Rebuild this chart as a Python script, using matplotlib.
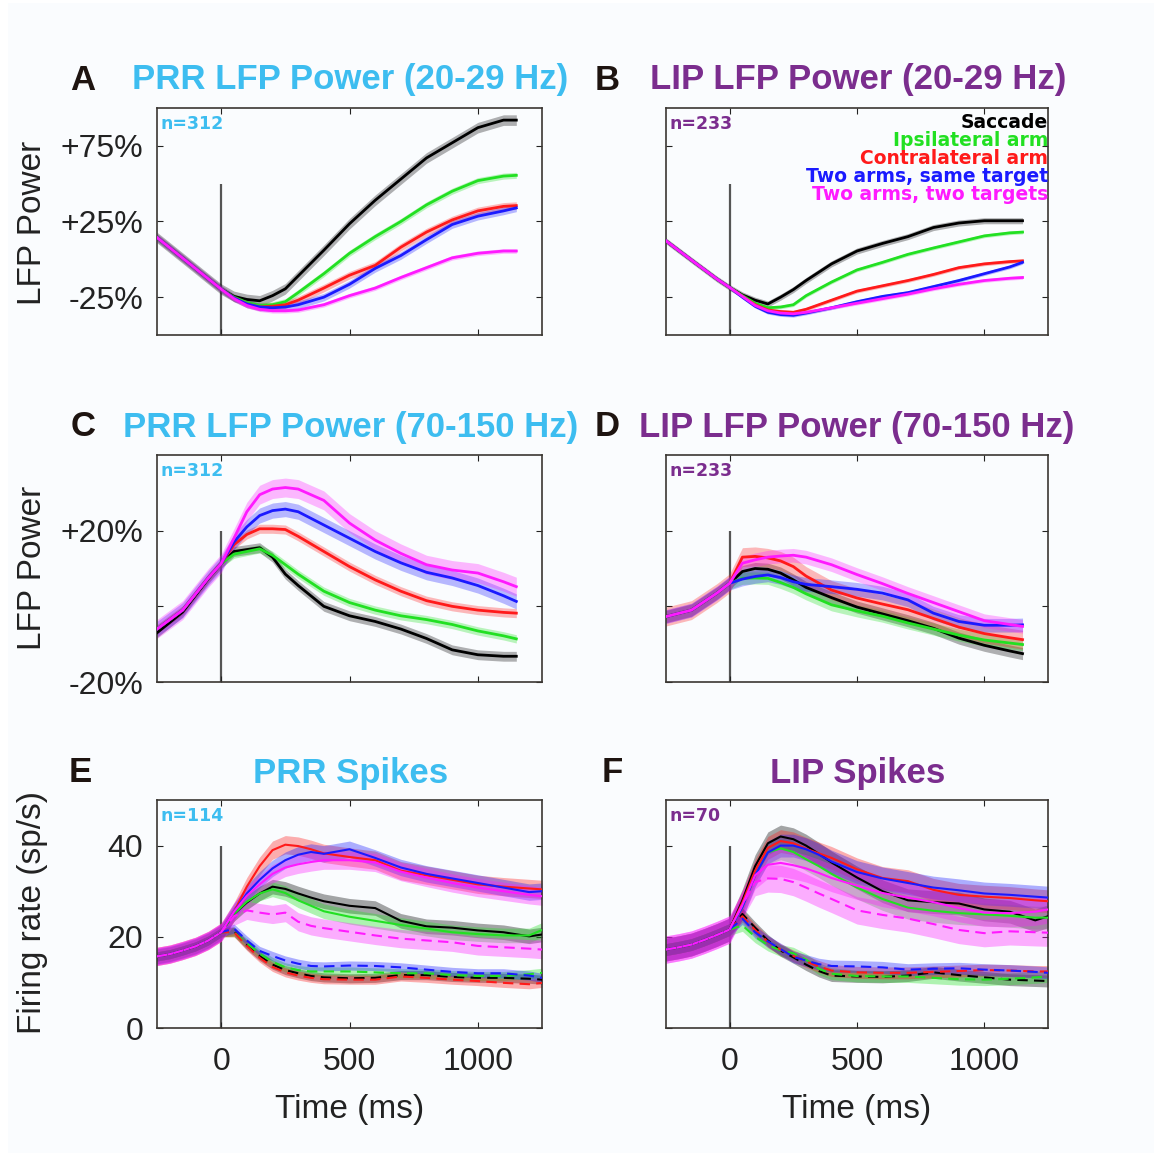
import matplotlib
matplotlib.use('Agg')
import matplotlib.pyplot as plt
from matplotlib.patches import Rectangle

plt.rcParams['font.family'] = ['Liberation Sans', 'DejaVu Sans']

PRR_COLOR = '#3dbdf0'
LIP_COLOR = '#7b2d8e'
COLORS = ['#000000', '#22e022', '#ff1a1a', '#1a1aff', '#ff1aff']
CONDITIONS = ['Saccade', 'Ipsilateral arm', 'Contralateral arm',
              'Two arms, same target', 'Two arms, two targets']

# LFP time grid (ms)
t_lfp = [-250, -150, -50, 0, 50, 100, 150, 200, 250, 300, 400, 500, 600, 700,
         800, 900, 1000, 1100, 1150]

# A: PRR beta (20-29 Hz), % change
a_pre = [14.4, 0.8, -12.9, -19.7]
a_sac = a_pre + [-24.5, -26.5, -27.4, -24, -19.5, -11, 6, 23.5, 39, 53, 67, 77, 87, 92, 92]
a_ips = a_pre + [-25, -28.5, -30.5, -30, -28, -22, -9.5, 4, 15, 25, 36, 45, 52, 55, 55.5]
a_con = a_pre + [-25.5, -29.5, -31.5, -31, -30, -27, -19, -10.5, -4, 8, 18, 26, 32, 35, 35.5]
a_same = a_pre + [-25.5, -29.5, -31.5, -32, -31.5, -30, -25, -16.5, -6, 2.5, 13, 23, 28.5, 32, 34]
a_two = a_pre + [-26, -30.5, -33, -34, -34, -33.5, -30, -24, -19, -12, -5.5, 1, 4, 5.5, 5.5]
a_sem = [3.5, 2, 2.5, 2.5, 1.5]

# B: LIP beta (20-29 Hz)
b_pre = [12.2, -0.5, -13, -18.6]
b_sac = b_pre + [-23.5, -27, -29.5, -25, -20, -14, -3, 5.5, 10.5, 15, 21, 24, 25.5, 25.5, 25.5]
b_ips = b_pre + [-24, -29, -32, -31.5, -30, -24, -15, -7, -2, 3.3, 7.5, 11.5, 15.5, 17.5, 18]
b_con = b_pre + [-24.5, -30, -33.5, -34.5, -35, -33, -27, -21, -17.5, -14, -10, -5.5, -3, -1.5, -1]
b_same = b_pre + [-25, -31, -35, -36.5, -37, -35.5, -32, -28, -24.5, -22, -18, -14, -9.5, -5, -2]
b_two = b_pre + [-24.5, -30.5, -34, -35.5, -36, -35, -32, -29, -26, -23, -19.5, -16.5, -14, -12.5, -12]
b_sem = [2, 1.2, 1.2, 1.2, 1.2]

# C: PRR high gamma (70-150 Hz)
c_pre = [-6, -1, 7.5, 11.3]
c_sac = [-7, -1.5, 7.3, 11.3] + [14.5, 15, 15.5, 13, 8.5, 5.5, 0, -2.5, -4, -6, -8.5, -11.5, -12.8, -13.2, -13.2]
c_ips = c_pre + [13.8, 14.5, 15.2, 13.5, 11, 8.5, 4, 1, -1, -2.5, -3.5, -4.8, -6.5, -7.8, -8.6]
c_con = c_pre + [16.3, 19, 20.5, 20.5, 20.3, 18.5, 14.5, 10.5, 7, 4, 1.5, 0, -1, -1.6, -1.8]
c_same = c_pre + [17, 21, 24, 25.3, 25.7, 25, 21.5, 18, 14.5, 11.5, 9, 7.5, 5.5, 2.8, 1.3]
c_two = c_pre + [18, 25, 29.5, 31, 31.4, 31, 28, 22, 17.5, 14, 11, 9.6, 8.8, 6.5, 5.2]
c_sem = [1.3, 1.1, 1.2, 2, 2.5]

# D: LIP high gamma (70-150 Hz)
d_pre = [-2.7, -1, 3.5, 6.1]
d_sac = d_pre + [9.2, 10, 9.8, 8.8, 7, 5, 2.3, -0.2, -2, -3.8, -5.8, -8.4, -10.3, -11.8, -12.5]
d_ips = d_pre + [7.4, 7.5, 7.4, 6.3, 5, 3.3, 0.4, -1.2, -2.6, -4.4, -6, -7.6, -8.9, -9.7, -10.1]
d_con = d_pre + [13, 13.2, 12.8, 12, 10.5, 8, 4.3, 2.2, 0.6, -0.9, -3.2, -5.5, -7.2, -8.3, -8.8]
d_same = d_pre + [7.2, 7.9, 8.3, 7.6, 6.5, 5.8, 5.2, 4.5, 3.5, 1.7, -1.8, -4, -5, -5, -4.9]
d_two = d_pre + [11.4, 12.3, 13, 13.3, 13.5, 13, 11, 8.4, 6, 3.4, 1, -1.4, -3.8, -4.8, -5.3]
d_sem = [1.6, 1.6, 2.5, 1.8, 1.8]

# spike time grid (ms)
t_spk = [-250, -200, -150, -100, -50, 0, 50, 100, 150, 200, 250, 300, 350, 400,
         500, 600, 700, 800, 900, 1000, 1100, 1200, 1250]

# E: PRR spikes (sp/s); solid = target in RF, dashed = out
e_pre = [15.7, 16.2, 17, 17.9, 19.2, 21]
e_sac = e_pre + [25, 27.5, 29.5, 31, 30.5, 29.5, 28.6, 27.8, 26.8, 26.3, 23.5, 22.3, 22, 21.4, 21, 20.1, 20.5]
e_ips = e_pre + [25, 27.7, 29.5, 30.4, 29.6, 28, 26.8, 25.6, 24.4, 23.5, 22.6, 21.8, 21, 20.6, 20.3, 20.3, 21.5]
e_con = e_pre + [25.5, 31, 35.5, 39, 40.2, 39.9, 39.2, 38.3, 37.5, 36.8, 34.5, 33.5, 32.5, 31.5, 31, 30.6, 30.4]
e_same = e_pre + [25.5, 29.5, 32.5, 35, 36.8, 38, 38.6, 38.2, 39.2, 37.3, 35.2, 33.8, 32.8, 31.8, 30.8, 29.8, 30]
e_two = e_pre + [25.5, 29, 31.5, 33.8, 35.2, 35.9, 36.4, 36.8, 36.8, 36.3, 34.3, 33, 31.8, 30.8, 30, 29.2, 28.9]
e_sac_out = e_pre + [21.2, 18.2, 15.8, 13.9, 12.7, 12, 11.4, 11.1, 10.9, 11, 11.6, 11.6, 11.2, 11, 11, 10.8, 10.6]
e_ips_out = e_pre + [21, 18.6, 16.3, 14.5, 13.3, 12.7, 12.4, 12.4, 12.4, 12.2, 12, 12, 11.6, 11.4, 11.4, 11.8, 12.1]
e_con_out = e_pre + [21, 18, 15.4, 13.4, 12.2, 11.5, 11, 10.7, 10.6, 10.6, 11.3, 11, 10.6, 10.3, 9.9, 9.6, 9.9]
e_same_out = e_pre + [21.8, 19.2, 16.9, 15.8, 14.8, 14.1, 13.6, 13.5, 13.7, 13.6, 13.3, 12.8, 12.3, 12, 12, 11.5, 11]
e_two_alt = e_pre + [24.5, 25.8, 25.3, 24.9, 25.3, 23.3, 22.4, 21.9, 21.1, 20.3, 19.6, 19.2, 18.8, 18, 17.7, 17.4, 17.2]
e_sem = [1.6, 1.6, 2, 1.8, 2]
e_sem_out = [1, 1, 1, 1, 2]

# F: LIP spikes (sp/s)
f_pre = [17.2, 17.7, 18.3, 19.3, 20.4, 21.6]
f_sac = f_pre + [28, 35.5, 40.5, 42, 41.4, 40, 38.2, 36.3, 33, 30, 28, 27.6, 27.3, 26, 25.5, 23.6, 24.5]
f_ips = f_pre + [26.5, 33.5, 38.5, 39.4, 38.6, 37, 35.5, 33.8, 30.8, 28.3, 26.4, 25.7, 25.2, 24.9, 24.6, 24.2, 24.2]
f_con = f_pre + [27.5, 34.5, 39.5, 41, 40.5, 39.3, 38.3, 37.3, 34.8, 32.9, 32.2, 30.3, 29.2, 28.8, 28.5, 28, 27.8]
f_same = f_pre + [26.5, 33.5, 38.5, 40, 40, 39.2, 38, 36.5, 34.2, 32.8, 31.8, 30.8, 30.2, 29.5, 29.2, 28.8, 28.6]
f_two = f_pre + [27, 33.5, 35.8, 36.2, 35.7, 35, 34, 32.9, 31.2, 29.6, 28.6, 27.6, 26.3, 25.3, 25.2, 25.5, 26]
f_sac_out = f_pre + [25, 22, 19.2, 17, 15.5, 13.9, 12.5, 11.5, 11.3, 11.2, 11.5, 12.2, 11.6, 11.1, 10.6, 10.4, 10.3]
f_ips_out = f_pre + [22.5, 20, 18.2, 17, 16.4, 15, 13, 11.9, 11.4, 11.3, 11.3, 11, 10.7, 10.6, 10.8, 11.1, 11.3]
f_con_out = f_pre + [24.5, 21.5, 18.9, 17.2, 15.8, 14.6, 13.5, 12.6, 12.2, 12.1, 12.1, 12.3, 12.5, 12.7, 12.6, 12.4, 12.4]
f_same_out = f_pre + [24, 21, 19, 17.3, 15.6, 14.8, 14, 13.6, 13.5, 13.3, 12.8, 13, 13.1, 12.8, 12.6, 12.3, 12.1]
f_two_alt = f_pre + [27, 32, 32.8, 32.7, 32, 30.8, 29.5, 28.3, 25.8, 24.8, 24, 22.8, 21.5, 20.8, 21.2, 21, 20.9]
f_sem = [2.5, 2.5, 2.5, 2.5, 3]
f_sem_out = [1.3, 1.3, 1.3, 1.3, 3]

W, H = 1154, 1153


def px_axes(fig, left, top, right, bottom):
    return fig.add_axes([left / W, 1 - bottom / H, (right - left) / W, (bottom - top) / H])


def fig_text(fig, x, y, s, **kw):
    fig.text(x / W, 1 - y / H, s, ha='center', va='center', **kw)


def style_axes(ax, ylim, yticks, ylabels, vline_top, xlabels):
    ax.set_facecolor('#fafcfe')
    ax.set_xlim(-250, 1250)
    ax.set_ylim(*ylim)
    ax.set_xticks([0, 500, 1000])
    ax.set_yticks(yticks)
    ax.set_yticklabels(ylabels)
    if xlabels:
        ax.set_xticklabels(['0', '500', '1000'])
    else:
        ax.set_xticklabels([])
    ax.tick_params(direction='in', top=True, right=True, length=4, width=0.8,
                   labelsize=23, colors='#222222', pad=10)
    ax.tick_params(axis='x', pad=14)
    for sp in ax.spines.values():
        sp.set_linewidth(1.2)
        sp.set_color('#3a3632')
    ax.vlines(0, ylim[0], vline_top, color='#555555', lw=1.6, zorder=1)


def draw_curves(ax, t, curves, sems, styles, lw, alpha):
    for y, s, (c, ls) in zip(curves, sems, styles):
        lo = [v - s for v in y]
        hi = [v + s for v in y]
        ax.fill_between(t, lo, hi, color=c, alpha=alpha, lw=0, zorder=2)
    for y, (c, ls) in zip(curves, styles):
        if ls == '--':
            ax.plot(t, y, color=c, lw=lw, ls=(0, (5, 3)), zorder=3)
        else:
            ax.plot(t, y, color=c, lw=lw, zorder=3)


def n_label(ax, s, color):
    ax.text(0.008, 0.93, s, transform=ax.transAxes, color=color,
            fontsize=12.5, fontweight='bold', family='DejaVu Sans', va='center')


fig = plt.figure(figsize=(W / 100, H / 100), dpi=100)
fig.patch.set_facecolor('white')
fig.patches.append(Rectangle((8 / W, 0), 1 - 8 / W, 1 - 3 / H, transform=fig.transFigure,
                             facecolor='#fafcfe', edgecolor='none', zorder=-10))

solid = [(c, '-') for c in COLORS]

# A
axA = px_axes(fig, 157, 108, 542, 335)
style_axes(axA, (-50, 100), [-25, 25, 75], ['-25%', '+25%', '+75%'], 50, False)
draw_curves(axA, t_lfp, [a_sac, a_ips, a_con, a_same, a_two], a_sem, solid, 2.0, 0.3)
n_label(axA, 'n=312', PRR_COLOR)

# B
axB = px_axes(fig, 666, 108, 1048, 335)
style_axes(axB, (-50, 100), [-25, 25, 75], ['', '', ''], 50, False)
draw_curves(axB, t_lfp, [b_sac, b_ips, b_con, b_same, b_two], b_sem, solid, 2.0, 0.3)
n_label(axB, 'n=233', LIP_COLOR)
for i, (name, c) in enumerate(zip(CONDITIONS, COLORS)):
    axB.text(1.0, 0.934 - i * 0.0793, name, transform=axB.transAxes, color=c,
             fontsize=13.5, fontweight='bold', family='DejaVu Sans',
             ha='right', va='center', clip_on=True)

# C
axC = px_axes(fig, 157, 455, 542, 682)
style_axes(axC, (-20, 40), [-20, 0, 20], ['-20%', '', '+20%'], 20, False)
draw_curves(axC, t_lfp, [c_sac, c_ips, c_con, c_same, c_two], c_sem, solid, 2.0, 0.3)
n_label(axC, 'n=312', PRR_COLOR)

# D
axD = px_axes(fig, 666, 455, 1048, 682)
style_axes(axD, (-20, 40), [-20, 0, 20], ['', '', ''], 20, False)
draw_curves(axD, t_lfp, [d_sac, d_ips, d_con, d_same, d_two], d_sem, solid, 2.0, 0.3)
n_label(axD, 'n=233', LIP_COLOR)

spk_styles = solid + [(c, '--') for c in COLORS]

# E
axE = px_axes(fig, 157, 800, 542, 1028)
style_axes(axE, (0, 50), [0, 20, 40], ['0', '20', '40'], 40, True)
draw_curves(axE, t_spk,
            [e_sac, e_ips, e_con, e_same, e_two,
             e_sac_out, e_ips_out, e_con_out, e_same_out, e_two_alt],
            e_sem + e_sem_out, spk_styles, 1.5, 0.35)
n_label(axE, 'n=114', PRR_COLOR)
axE.set_xlabel('Time (ms)', fontsize=24, color='#222222', labelpad=12)

# F
axF = px_axes(fig, 666, 800, 1048, 1028)
style_axes(axF, (0, 50), [0, 20, 40], ['', '', ''], 40, True)
draw_curves(axF, t_spk,
            [f_sac, f_ips, f_con, f_same, f_two,
             f_sac_out, f_ips_out, f_con_out, f_same_out, f_two_alt],
            f_sem + f_sem_out, spk_styles, 1.5, 0.35)
n_label(axF, 'n=70', LIP_COLOR)
axF.set_xlabel('Time (ms)', fontsize=24, color='#222222', labelpad=12)

# titles and panel letters
title_kw = dict(fontsize=25, fontweight='bold')
fig_text(fig, 350, 80, 'PRR LFP Power (20-29 Hz)', color=PRR_COLOR, **title_kw)
fig_text(fig, 858, 80, 'LIP LFP Power (20-29 Hz)', color=LIP_COLOR, **title_kw)
fig_text(fig, 351, 427, 'PRR LFP Power (70-150 Hz)', color=PRR_COLOR, **title_kw)
fig_text(fig, 857, 427, 'LIP LFP Power (70-150 Hz)', color=LIP_COLOR, **title_kw)
fig_text(fig, 351, 773, 'PRR Spikes', color=PRR_COLOR, **title_kw)
fig_text(fig, 858, 773, 'LIP Spikes', color=LIP_COLOR, **title_kw)
for letter, x, y in [('A', 83, 80), ('B', 607, 80), ('C', 83, 427),
                     ('D', 607, 427), ('E', 80, 773), ('F', 612, 773)]:
    fig_text(fig, x, y, letter, color='#1e1410', **title_kw)

fig_text(fig, 33, 223, 'LFP Power', color='#222222', fontsize=24, rotation=90)
fig_text(fig, 33, 568, 'LFP Power', color='#222222', fontsize=24, rotation=90)
fig_text(fig, 33, 912, 'Firing rate (sp/s)', color='#222222', fontsize=24, rotation=90)

fig.savefig('out.png', dpi=100, facecolor=fig.get_facecolor())
